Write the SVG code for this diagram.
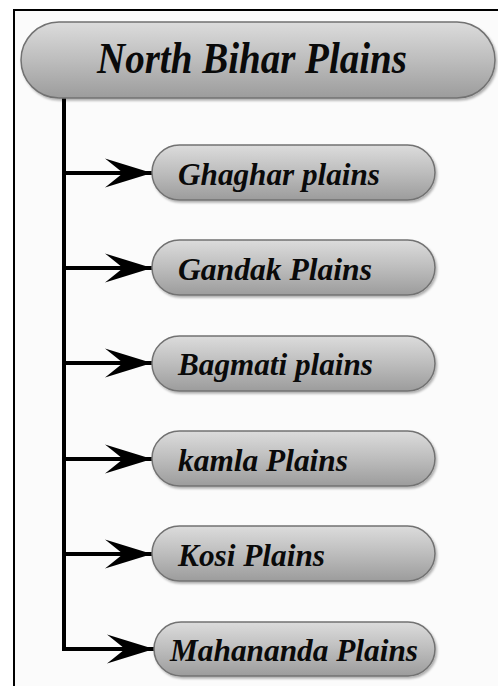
<svg xmlns="http://www.w3.org/2000/svg" width="498" height="686" viewBox="0 0 498 686">
  <defs>
    <linearGradient id="pillGrad" x1="0" y1="0" x2="0" y2="1">
      <stop offset="0" stop-color="#dcdcdc"/>
      <stop offset="0.5" stop-color="#bdbdbd"/>
      <stop offset="1" stop-color="#9c9c9c"/>
    </linearGradient>
    <filter id="shadow" x="-5%" y="-10%" width="110%" height="130%">
      <feDropShadow dx="1.5" dy="2" stdDeviation="1.2" flood-color="#000" flood-opacity="0.3"/>
    </filter>
    <marker id="barb" markerUnits="userSpaceOnUse" markerWidth="50" markerHeight="32" refX="48" refY="15" orient="auto" viewBox="0 0 50 30">
      <path d="M48,15 L1,0.5 Q13,10 19,15 Q13,20 1,29.5 Z" fill="#000"/>
    </marker>
    <style>
      .pill { fill: url(#pillGrad); stroke: #727272; stroke-width: 1.5; filter: url(#shadow); }
      .lbl { font-family: "Liberation Serif", "Times New Roman", serif; font-weight: bold; font-style: italic; fill: #0a0a0a; font-size: 31px; }
      .title { font-size: 44px; }
      .wire { fill: none; stroke: #000; stroke-width: 4; }
      .frame { fill: none; stroke: #000; stroke-width: 2; }
    </style>
  </defs>

  <rect x="14" y="10" width="484" height="676" fill="#fbfbfb"/>
  <path class="frame" d="M14,686 L14,10 L498,10"/>

  <g id="connectors">
    <path class="wire" d="M64,98 L64,649"/>
    <path class="wire" d="M64,173 L152,173" marker-end="url(#barb)"/>
    <path class="wire" d="M64,268 L152,268" marker-end="url(#barb)"/>
    <path class="wire" d="M64,363 L152,363" marker-end="url(#barb)"/>
    <path class="wire" d="M64,459 L152,459" marker-end="url(#barb)"/>
    <path class="wire" d="M64,554 L152,554" marker-end="url(#barb)"/>
    <path class="wire" d="M62,649 L154,649" marker-end="url(#barb)"/>
  </g>

  <g id="node-north-bihar">
    <rect class="pill" x="21" y="22" width="474" height="76" rx="38" ry="38"/>
    <text class="lbl title" x="97" y="73" textLength="310" lengthAdjust="spacingAndGlyphs">North Bihar Plains</text>
  </g>

  <g id="node-ghaghar">
    <rect class="pill" x="152" y="145" width="283" height="55" rx="27.5" ry="27.5"/>
    <text class="lbl" x="178" y="185" textLength="202" lengthAdjust="spacingAndGlyphs">Ghaghar plains</text>
  </g>

  <g id="node-gandak">
    <rect class="pill" x="152" y="240" width="283" height="55" rx="27.5" ry="27.5"/>
    <text class="lbl" x="178" y="280" textLength="194" lengthAdjust="spacingAndGlyphs">Gandak Plains</text>
  </g>

  <g id="node-bagmati">
    <rect class="pill" x="152" y="336" width="283" height="55" rx="27.5" ry="27.5"/>
    <text class="lbl" x="178" y="375" textLength="195" lengthAdjust="spacingAndGlyphs">Bagmati plains</text>
  </g>

  <g id="node-kamla">
    <rect class="pill" x="152" y="431" width="283" height="55" rx="27.5" ry="27.5"/>
    <text class="lbl" x="178" y="471" textLength="170" lengthAdjust="spacingAndGlyphs">kamla Plains</text>
  </g>

  <g id="node-kosi">
    <rect class="pill" x="152" y="526" width="283" height="55" rx="27.5" ry="27.5"/>
    <text class="lbl" x="178" y="566" textLength="147" lengthAdjust="spacingAndGlyphs">Kosi Plains</text>
  </g>

  <g id="node-mahananda">
    <rect class="pill" x="154" y="622" width="281" height="54" rx="27" ry="27"/>
    <text class="lbl" x="170" y="661" textLength="248" lengthAdjust="spacingAndGlyphs">Mahananda Plains</text>
  </g>
</svg>
